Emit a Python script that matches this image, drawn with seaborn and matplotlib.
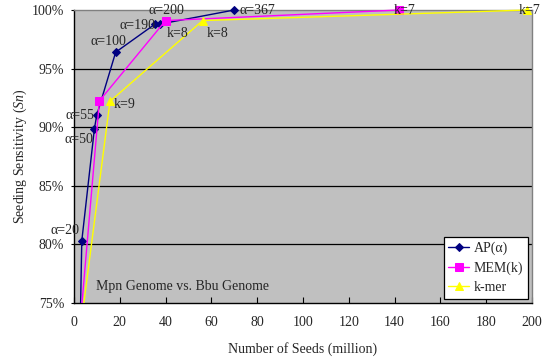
import matplotlib
matplotlib.use("Agg")
import matplotlib.pyplot as plt
import matplotlib.patches as mpatches
import seaborn as sns
import pandas as pd

# Seeds (million) vs. seeding sensitivity (%) for each seeding method
ap_seeds = [2.6, 3.4, 8.9, 9.9, 18.2, 35.4, 37.6, 70.0]
ap_sens = [72.0, 80.3, 89.85, 91.0, 96.4, 98.8, 98.8, 100.0]
ap_labels = ["", "α=20", "α=50", "α=55", "α=100", "α=190", "α=200", "α=367"]

mem_seeds = [1.5, 11.1, 40.0, 142.0]
mem_sens = [70.5, 92.25, 99.1, 100.0]
mem_labels = ["", "", "k=8", "k=7"]

kmer_seeds = [2.0, 15.7, 56.2, 198.0]
kmer_sens = [71.5, 92.2, 99.1, 100.0]
kmer_labels = ["", "k=9", "k=8", "k=7"]

x_ticks = list(range(0, 201, 20))
y_ticks = [75, 80, 85, 90, 95, 100]

sns.set_theme(style="white")
plt.rcParams["font.family"] = ["Liberation Serif", "DejaVu Serif"]
plt.rcParams["mathtext.fontset"] = "custom"
plt.rcParams["mathtext.it"] = "Liberation Serif:italic"
plt.rcParams["mathtext.rm"] = "Liberation Serif"

fig = plt.figure(figsize=(5.45, 3.63), dpi=100)
ax = fig.add_axes([74 / 545, 60 / 363, 458 / 545, 293 / 363])
ax.set_facecolor("#C0C0C0")

for v in y_ticks[1:-1]:
    ax.axhline(v, color="black", lw=0.9, zorder=1)

series = [
    ("AP(α)", ap_seeds, ap_sens, "#000080", "D", 4.5),
    ("MEM(k)", mem_seeds, mem_sens, "#FF00FF", "s", 5.5),
    ("k-mer", kmer_seeds, kmer_sens, "#FFFF00", "^", 6),
]
for name, xs, ys, col, mk, ms in series:
    df = pd.DataFrame({"seeds": xs, "sens": ys})
    sns.lineplot(data=df, x="seeds", y="sens", sort=False, color=col, marker=mk,
                 markersize=ms, markeredgecolor=col, linewidth=1.0, ax=ax,
                 label=name, zorder=3)

# let markers sitting on the 100% edge show in full, still clipping below 75%
clip_rect = mpatches.Rectangle((0, 0), 1.02, 1.05, transform=ax.transAxes,
                               facecolor="none", edgecolor="none")
ax.add_patch(clip_rect)
for ln in ax.lines[4:]:
    ln.set_clip_path(clip_rect)

fs = 10
# AP(alpha) point labels
ap_offsets = {
    "α=20": (-2, 3, "right", "bottom"),
    "α=50": (-1, -3, "right", "top"),
    "α=55": (-2, 0, "right", "center"),
    "α=100": (8, 3, "right", "bottom"),
    "α=190": (0, -1, "right", "center"),
    "α=200": (-8, 5, "left", "bottom"),
    "α=367": (4, 0, "left", "center"),
}
for x, y, lab in zip(ap_seeds, ap_sens, ap_labels):
    if lab:
        dx, dy, ha, va = ap_offsets[lab]
        ax.annotate(lab, (x, y), xytext=(dx, dy), textcoords="offset points",
                    ha=ha, va=va, fontsize=fs, annotation_clip=False, zorder=5)

mem_offsets = {"k=8": (1, -5, "left", "top"), "k=7": (-4, 0, "left", "center")}
for x, y, lab in zip(mem_seeds, mem_sens, mem_labels):
    if lab:
        dx, dy, ha, va = mem_offsets[lab]
        ax.annotate(lab, (x, y), xytext=(dx, dy), textcoords="offset points",
                    ha=ha, va=va, fontsize=fs, annotation_clip=False, zorder=5)

kmer_offsets = {"k=9": (3, -2, "left", "center"), "k=8": (3, -5, "left", "top"),
                "k=7": (-6, 0, "left", "center")}
for x, y, lab in zip(kmer_seeds, kmer_sens, kmer_labels):
    if lab:
        dx, dy, ha, va = kmer_offsets[lab]
        ax.annotate(lab, (x, y), xytext=(dx, dy), textcoords="offset points",
                    ha=ha, va=va, fontsize=fs, annotation_clip=False, zorder=5)

ax.text(9.6, 76.45, "Mpn Genome vs. Bbu Genome", fontsize=fs, ha="left",
        va="center", zorder=5)

ax.set_xlim(0, 200)
ax.set_ylim(75, 100)
ax.set_xticks(x_ticks)
ax.set_yticks(y_ticks)
ax.set_yticklabels([f"{v}%" for v in y_ticks])
ax.tick_params(axis="x", direction="in", length=4, width=0.8, color="black",
               pad=9, labelsize=fs, bottom=True)
ax.tick_params(axis="y", direction="out", length=2, width=0.8, color="black",
               pad=5, labelsize=fs, left=True)

for side in ["left", "bottom"]:
    ax.spines[side].set_color("black")
    ax.spines[side].set_linewidth(1.0)
for side in ["top", "right"]:
    ax.spines[side].set_color("#808080")
    ax.spines[side].set_linewidth(1.0)

ax.set_xlabel("Number of Seeds (million)", fontsize=fs, labelpad=10)
ax.set_ylabel("Seeding Sensitivity ($\\mathit{Sn}$)", fontsize=fs, labelpad=2)

leg = ax.legend(loc="lower right", fontsize=fs, frameon=True, fancybox=False,
                handlelength=1.5, borderaxespad=0.3, borderpad=0.35,
                labelspacing=0.45, handletextpad=0.3)
leg.get_frame().set_edgecolor("black")
leg.get_frame().set_facecolor("white")
leg.get_frame().set_alpha(1)
leg.get_frame().set_linewidth(0.9)

fig.savefig("out.png", dpi=100, facecolor="white")
